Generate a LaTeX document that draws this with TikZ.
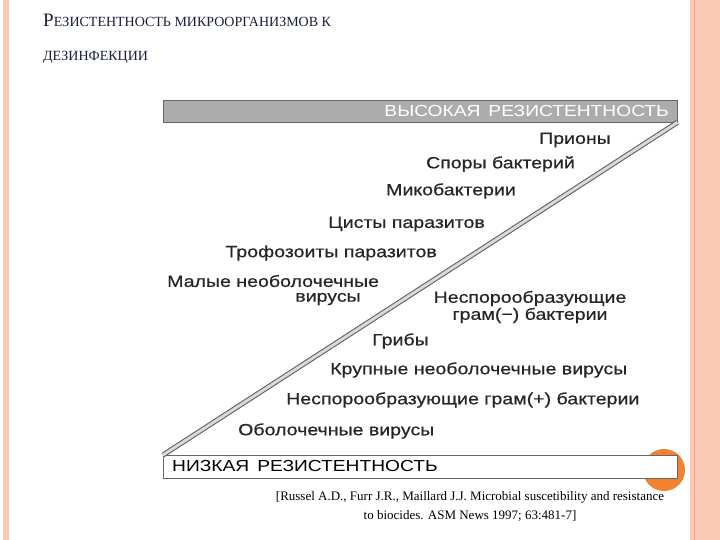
\documentclass[tikz,border=0pt]{standalone}
\usepackage{fontspec}
\setmainfont{Liberation Serif}
\newfontfamily\ars[FakeStretch=1.2,FakeBold=0.6]{Liberation Sans}
\newfontfamily\arb[FakeStretch=1.2]{Liberation Sans}
\begin{document}
\begin{tikzpicture}[x=1pt,y=-1pt,
  lab/.style={font=\ars\fontsize{16.3}{17}\selectfont, inner sep=0pt, text=black!85},
  ttl/.style={font=\fontsize{14}{16}\selectfont, text={rgb,255:red,25;green,30;blue,60}, anchor=west, inner sep=0pt}]
\definecolor{peach}{RGB}{250,200,180}
\definecolor{orng}{RGB}{240,130,50}
\useasboundingbox (0,0) rectangle (720,540);
\fill[white] (0,0) rectangle (720,540);
\fill[peach] (3,0) rectangle (9,540);
\fill[peach] (690,0) rectangle (720,540);
\draw[peach!70!brown, line width=0.6] (694,0) -- (694,540);
% title
\node[ttl] (t1) at (43,20) {{\fontsize{19}{20}\selectfont Р}ЕЗИСТЕНТНОСТЬ МИКРООРГАНИЗМОВ К};
\node[ttl] (t2) at (43,57) {ДЕЗИНФЕКЦИИ};
% orange circle
\fill[orng] (664,470) circle (21);
% bars
\node[draw=gray!80!black, fill=gray!65, minimum width=514, minimum height=22, inner sep=0, anchor=north west] (hi) at (163,100) {};
\node[font=\arb\fontsize{16}{18}\selectfont, text=white, anchor=east, inner sep=0] (hit) at (669,111) {ВЫСОКАЯ\, РЕЗИСТЕНТНОСТЬ};
\node[draw=gray!80!black, fill=white, minimum width=514, minimum height=23, inner sep=0, anchor=north west, line width=0.8] (lo) at (163,455) {};
\node[font=\arb\fontsize{16}{18}\selectfont, anchor=west, inner sep=0] (lot) at (172,466) {НИЗКАЯ\, РЕЗИСТЕНТНОСТЬ};
% diagonal
\draw[gray!70!black, line width=5] (lo.north west) -- (hi.south east);
\draw[gray!30, line width=3] (lo.north west) -- (hi.south east);
% labels
\node[lab, anchor=east] (a1) at (611,140) {Прионы};
\node[lab, anchor=east] (a2) at (575,164) {Споры бактерий};
\node[lab, anchor=east] (a3) at (516,191) {Микобактерии};
\node[lab, anchor=east] (a4) at (485,224) {Цисты паразитов};
\node[lab, anchor=east] (a5) at (437,253) {Трофозоиты паразитов};
\node[lab, anchor=west] (a6) at (167,281) {Малые необолочечные};
\node[lab] (a6b) at (328,299) {вирусы};
\node[lab, align=center] (a7) at (530,307) {Неспорообразующие\\грам(−) бактерии};
\node[lab, anchor=west] (a8) at (372,341) {Грибы};
\node[lab, anchor=west] (a9) at (330,370) {Крупные необолочечные вирусы};
\node[lab, anchor=west] (a10) at (286,400) {Неспорообразующие грам(+) бактерии};
\node[lab, anchor=west] (a11) at (238,431) {Оболочечные вирусы};
% citation
\node[font=\fontsize{13}{19}\selectfont, align=center] (c) at (470,506) {[Russel A.D., Furr J.R., Maillard J.J. Microbial suscetibility and resistance\\to biocides. ASM News 1997; 63:481-7]};
\end{tikzpicture}
\end{document}
